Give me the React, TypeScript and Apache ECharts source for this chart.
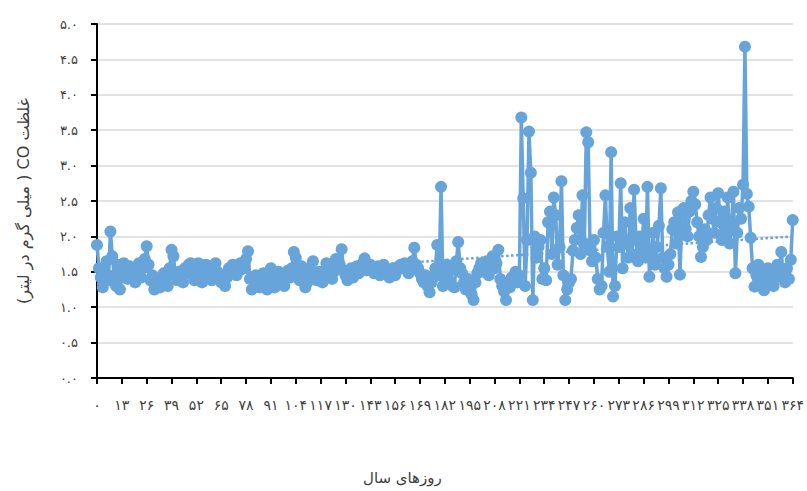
import React, { useEffect, useRef } from 'react';
import * as echarts from 'echarts';

// Day-of-year categories (0 .. 364)
const days: number[] = Array.from({ length: 365 }, (_, i) => i);

// CO concentration (mg/L), 13 days per row
const coValues: number[] = [
  1.88, 1.55, 1.42, 1.28, 1.50, 1.65, 1.38, 2.07, 1.72, 1.45, 1.30, 1.60, 1.25,
  1.48, 1.62, 1.55, 1.40, 1.58, 1.52, 1.45, 1.35, 1.50, 1.62, 1.42, 1.55, 1.68,
  1.86, 1.60, 1.38, 1.45, 1.25, 1.32, 1.40, 1.28, 1.35, 1.48, 1.42, 1.30, 1.55,
  1.81, 1.72, 1.45, 1.38, 1.50, 1.42, 1.35, 1.55, 1.48, 1.60, 1.62, 1.45, 1.38,
  1.58, 1.62, 1.40, 1.35, 1.52, 1.60, 1.55, 1.45, 1.38, 1.58, 1.62, 1.50, 1.42,
  1.35, 1.45, 1.30, 1.42, 1.55, 1.48, 1.60, 1.58, 1.45, 1.52, 1.62, 1.60, 1.55,
  1.68, 1.79, 1.40, 1.25, 1.38, 1.45, 1.30, 1.28, 1.40, 1.48, 1.35, 1.25, 1.30,
  1.55, 1.42, 1.28, 1.38, 1.50, 1.45, 1.35, 1.30, 1.48, 1.52, 1.42, 1.55, 1.78,
  1.70, 1.45, 1.38, 1.58, 1.50, 1.28, 1.35, 1.55, 1.48, 1.65, 1.42, 1.38, 1.50,
  1.45, 1.35, 1.52, 1.62, 1.58, 1.45, 1.40, 1.50, 1.68, 1.55, 1.60, 1.82, 1.52,
  1.45, 1.38, 1.48, 1.55, 1.42, 1.50, 1.58, 1.48, 1.55, 1.62, 1.69, 1.52, 1.58,
  1.60, 1.55, 1.48, 1.52, 1.58, 1.45, 1.55, 1.60, 1.50, 1.48, 1.42, 1.50, 1.55,
  1.45, 1.52, 1.58, 1.60, 1.55, 1.62, 1.58, 1.48, 1.55, 1.65, 1.84, 1.60, 1.55,
  1.48, 1.40, 1.35, 1.45, 1.30, 1.21, 1.35, 1.42, 1.55, 1.88, 1.45, 2.70, 1.30,
  1.45, 1.60, 1.38, 1.52, 1.30, 1.28, 1.65, 1.92, 1.55, 1.48, 1.35, 1.25, 1.40,
  1.30, 1.18, 1.10, 1.35, 1.48, 1.55, 1.62, 1.50, 1.58, 1.65, 1.45, 1.60, 1.72,
  1.55, 1.62, 1.81, 1.40, 1.30, 1.22, 1.10, 1.35, 1.28, 1.42, 1.38, 1.50, 1.35,
  1.45, 3.68, 2.54, 1.30, 1.95, 3.48, 2.90, 1.10, 2.00, 1.70, 1.85, 1.95, 1.40,
  1.55, 1.38, 2.20, 2.35, 1.75, 2.55, 2.30, 1.60, 1.85, 2.78, 1.45, 1.10, 1.25,
  1.35, 1.40, 1.80, 1.95, 2.12, 2.30, 1.75, 2.58, 1.90, 3.47, 3.33, 1.80, 1.65,
  1.95, 1.70, 1.40, 1.25, 1.30, 2.05, 2.58, 1.85, 1.50, 3.19, 1.15, 1.30, 2.00,
  1.85, 2.75, 1.55, 2.20, 1.90, 1.70, 2.40, 1.75, 2.66, 1.95, 1.65, 2.00, 1.80,
  2.25, 1.70, 2.70, 1.43, 1.75, 2.05, 1.60, 1.85, 2.15, 2.68, 1.70, 1.55, 1.43,
  1.60, 1.75, 2.10, 2.20, 1.90, 2.34, 1.46, 2.25, 2.40, 2.10, 2.00, 2.35, 2.50,
  2.63, 2.45, 2.20, 2.00, 1.71, 1.85, 2.10, 1.95, 2.30, 2.55, 2.25, 2.05, 2.40,
  2.61, 2.20, 1.95, 2.35, 2.00, 2.55, 1.90, 2.20, 2.63, 1.48, 2.05, 2.40, 2.25,
  2.73, 4.68, 2.60, 2.42, 1.98, 1.55, 1.29, 1.45, 1.60, 1.35, 1.50, 1.24, 1.40,
  1.55, 1.38, 1.48, 1.30, 1.42, 1.60, 1.52, 1.78, 1.45, 1.35, 1.55, 1.40, 1.67,
  2.23,
];

// Y axis range / step
const yAxisRange: number[] = [0, 5];
const yStep = 0.5;

// Dotted trend line: value at first and last day
const trendEnds: number[] = [1.33, 2.0];

const xTitle = 'روزهای سال';
const yTitle = 'غلظت CO ( میلی گرم در لیتر)';

const faDigits = '۰۱۲۳۴۵۶۷۸۹';
const toFa = (s: string) => s.replace(/\d/g, (d) => faDigits[Number(d)]);
// force right-to-left base direction for the rotated title
const rtl = (s: string) => '\u202B' + s + '\u202C';

const BLUE = '#67a4da';
const FONT = '"DejaVu Sans", "Noto Sans", sans-serif';

export default function App() {
  const ref = useRef<HTMLDivElement>(null);

  useEffect(() => {
    document.body.style.margin = '0';
    if (!ref.current) return;
    const chart = echarts.init(ref.current, undefined, { renderer: 'svg' });

    const trendData = days.map((d, i) =>
      i === 0 ? trendEnds[0] : i === days.length - 1 ? trendEnds[1] : null
    );

    chart.setOption({
      animation: false,
      backgroundColor: '#ffffff',
      grid: { left: 97, right: 10, top: 24, bottom: 113, containLabel: false },
      xAxis: {
        type: 'category',
        data: days.map((d) => toFa(String(d))),
        boundaryGap: false,
        axisLine: { lineStyle: { color: '#000000', width: 2 } },
        axisTick: { show: true, interval: 12, length: 6, lineStyle: { color: '#000000', width: 2 } },
        axisLabel: {
          interval: 12,
          margin: 20,
          color: '#404040',
          fontSize: 14,
          fontFamily: FONT,
          hideOverlap: false,
        },
        splitLine: { show: false },
      },
      yAxis: {
        type: 'value',
        min: yAxisRange[0],
        max: yAxisRange[1],
        interval: yStep,
        name: rtl(yTitle),
        nameLocation: 'middle',
        nameRotate: 90,
        nameGap: 66,
        nameTextStyle: { color: '#404040', fontSize: 16, fontFamily: FONT },
        axisLine: { show: true, lineStyle: { color: '#000000', width: 2 } },
        axisTick: { show: true, length: 6, lineStyle: { color: '#000000', width: 2 } },
        axisLabel: {
          margin: 19,
          color: '#404040',
          fontSize: 13,
          fontFamily: FONT,
          formatter: (v: number) => toFa(v.toFixed(1)),
        },
        splitLine: { show: true, lineStyle: { color: '#d9d9d9', width: 1.5 } },
      },
      graphic: [
        {
          type: 'text',
          left: 363,
          top: 470,
          style: {
            text: xTitle,
            fill: '#404040',
            fontSize: 15,
            fontFamily: FONT,
          },
        },
      ],
      series: [
        {
          name: 'trend',
          type: 'line',
          data: trendData,
          connectNulls: true,
          showSymbol: false,
          symbol: 'none',
          lineStyle: { color: BLUE, width: 2.5, type: 'dotted' },
          z: 1,
        },
        {
          name: 'CO',
          type: 'line',
          data: coValues,
          symbol: 'circle',
          symbolSize: 12,
          showAllSymbol: true,
          lineStyle: { color: BLUE, width: 3.5 },
          itemStyle: { color: BLUE, borderWidth: 0 },
          z: 2,
        },
      ],
    });

    return () => chart.dispose();
  }, []);

  return <div ref={ref} style={{ width: 807, height: 491 }} />;
}
